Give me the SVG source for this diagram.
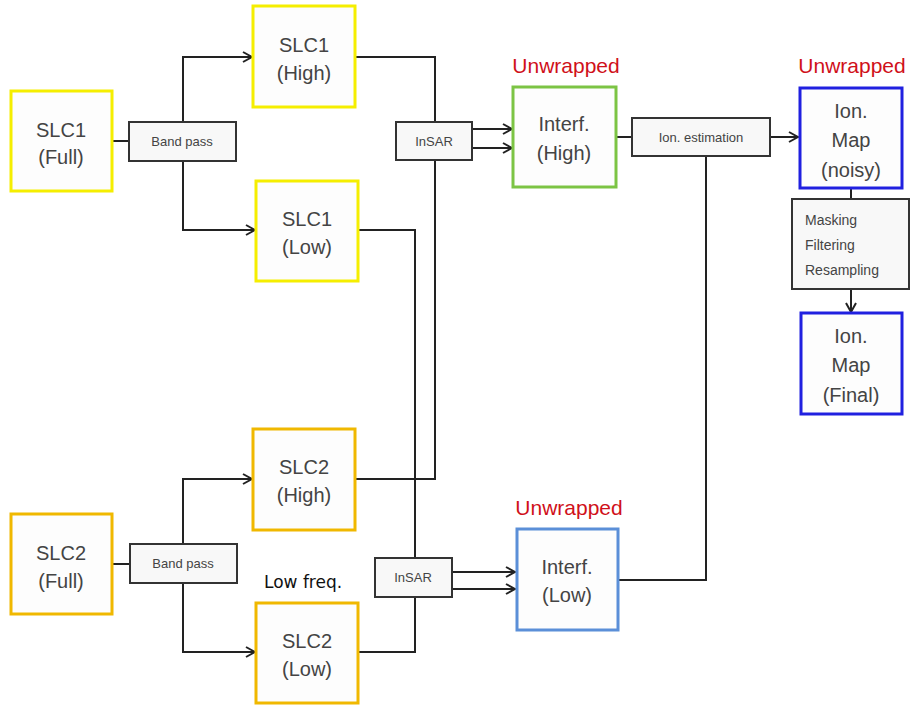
<svg xmlns="http://www.w3.org/2000/svg" width="913" height="705" viewBox="0 0 913 705">
<defs>
<marker id="ah" markerWidth="12" markerHeight="12" refX="10" refY="6" orient="auto" markerUnits="userSpaceOnUse">
<path d="M1,1 L10,6 L1,11" fill="none" stroke="#222" stroke-width="2"/>
</marker>
<style>
.n{fill:#fdfdfd;stroke-width:3}
.y{stroke:#f5ee00}
.o{stroke:#f0b800}
.g{stroke:#7cc444}
.lb{stroke:#5b8fd8}
.b{stroke:#2020e0}
.p{fill:#f8f8f8;stroke:#333;stroke-width:2}
.t{font-family:"Liberation Sans",Arial,sans-serif;font-size:20px;fill:#444;text-anchor:middle}
.s{font-family:"Liberation Sans",Arial,sans-serif;font-size:13px;fill:#444;text-anchor:middle}
.m{font-family:"Liberation Sans",Arial,sans-serif;font-size:14px;fill:#444}
.r{font-family:"Liberation Sans",Arial,sans-serif;font-size:21px;fill:#d0101a;text-anchor:middle}
.c{fill:none;stroke:#222;stroke-width:2}
</style>
</defs>
<g id="connectors">
<path class="c" d="M112,141 H129"/>
<path class="c" d="M183,122 V57 H252" marker-end="url(#ah)"/>
<path class="c" d="M183,161 V230 H255" marker-end="url(#ah)"/>
<path class="c" d="M355,57 H435 V122"/>
<path class="c" d="M435,160 V479 H355"/>
<path class="c" d="M358,230 H415 V558"/>
<path class="c" d="M415,597 V652 H358"/>
<path class="c" d="M472,129 H512" marker-end="url(#ah)"/>
<path class="c" d="M472,148 H512" marker-end="url(#ah)"/>
<path class="c" d="M616,137 H632"/>
<path class="c" d="M770,137 H798" marker-end="url(#ah)"/>
<path class="c" d="M706,156 V580 H618"/>
<path class="c" d="M112,564 H130"/>
<path class="c" d="M183,544 V479 H252" marker-end="url(#ah)"/>
<path class="c" d="M183,583 V652 H255" marker-end="url(#ah)"/>
<path class="c" d="M452,572 H515" marker-end="url(#ah)"/>
<path class="c" d="M452,589 H515" marker-end="url(#ah)"/>
<path class="c" d="M851,188 V199"/>
<path class="c" d="M851,289 V312" marker-end="url(#ah)"/>
</g>
<g id="slc1-full"><rect class="n y" x="11" y="91" width="101" height="100"/><text class="t" x="61" y="137">SLC1</text><text class="t" x="61" y="164">(Full)</text></g>
<g id="bandpass1"><rect class="p" x="129" y="122" width="107" height="39"/><text class="s" x="182" y="146">Band pass</text></g>
<g id="slc1-high"><rect class="n y" x="253" y="6" width="102" height="101"/><text class="t" x="304" y="52">SLC1</text><text class="t" x="304" y="80">(High)</text></g>
<g id="slc1-low"><rect class="n y" x="256" y="181" width="102" height="100"/><text class="t" x="307" y="226">SLC1</text><text class="t" x="307" y="254">(Low)</text></g>
<g id="insar1"><rect class="p" x="396" y="122" width="76" height="38"/><text class="s" x="434" y="146">InSAR</text></g>
<g id="interf-high"><text class="r" x="566" y="73">Unwrapped</text><rect class="n g" x="513" y="87" width="103" height="100"/><text class="t" x="564" y="131">Interf.</text><text class="t" x="564" y="160">(High)</text></g>
<g id="ion-estimation"><rect class="p" x="632" y="118" width="138" height="38"/><text class="s" x="701" y="142">Ion. estimation</text></g>
<g id="ion-map-noisy"><text class="r" x="852" y="73">Unwrapped</text><rect class="n b" x="800" y="88" width="102" height="100"/><text class="t" x="851" y="118">Ion.</text><text class="t" x="851" y="147">Map</text><text class="t" x="851" y="177">(noisy)</text></g>
<g id="masking"><rect class="p" x="792" y="199" width="117" height="90"/><text class="m" x="805" y="225">Masking</text><text class="m" x="805" y="250">Filtering</text><text class="m" x="805" y="275">Resampling</text></g>
<g id="ion-map-final"><rect class="n b" x="801" y="313" width="101" height="101"/><text class="t" x="851" y="343">Ion.</text><text class="t" x="851" y="372">Map</text><text class="t" x="851" y="402">(Final)</text></g>
<g id="slc2-full"><rect class="n o" x="11" y="514" width="101" height="100"/><text class="t" x="61" y="560">SLC2</text><text class="t" x="61" y="588">(Full)</text></g>
<g id="bandpass2"><rect class="p" x="130" y="544" width="107" height="39"/><text class="s" x="183" y="568">Band pass</text></g>
<g id="slc2-high"><rect class="n o" x="253" y="429" width="102" height="101"/><text class="t" x="304" y="474">SLC2</text><text class="t" x="304" y="502">(High)</text></g>
<g id="slc2-low"><text font-family="'DejaVu Sans',sans-serif" font-size="17" fill="#111" x="264" y="588">Low freq.</text><rect class="n o" x="256" y="603" width="102" height="100"/><text class="t" x="307" y="648">SLC2</text><text class="t" x="307" y="676">(Low)</text></g>
<g id="insar2"><rect class="p" x="375" y="558" width="77" height="39"/><text class="s" x="413" y="582">InSAR</text></g>
<g id="interf-low"><text class="r" x="569" y="515">Unwrapped</text><rect class="n lb" x="517" y="529" width="101" height="101"/><text class="t" x="567" y="574">Interf.</text><text class="t" x="567" y="602">(Low)</text></g>
</svg>
